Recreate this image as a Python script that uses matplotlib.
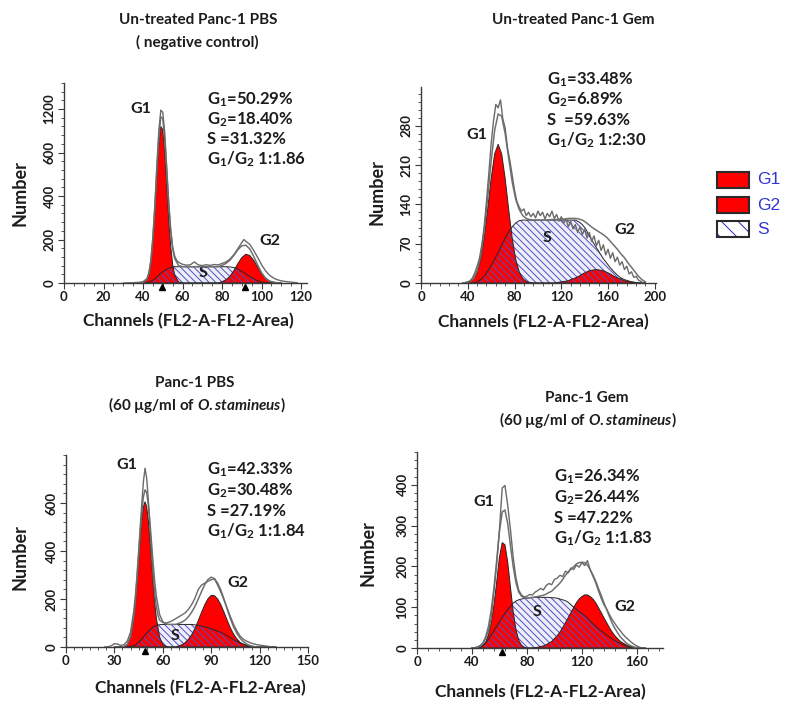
import numpy as np
import matplotlib
matplotlib.use("Agg")
import matplotlib.pyplot as plt
from matplotlib.ticker import AutoMinorLocator
from matplotlib.patches import Rectangle
import matplotlib.transforms as mtrans

# ---------------- data: Panel 1 (Un-treated Panc-1 PBS) ----------------
p1_ch = [36, 38, 40, 42, 43, 44, 45, 46, 47, 48, 49, 50, 51, 52, 53, 54, 55, 56,
         58, 60, 62, 64, 66, 68, 70, 72, 74, 76, 78, 80, 82, 84, 86, 88, 90, 92,
         94, 96, 98, 100, 102, 104, 106, 108, 110]
p1_g1 = [0, 0, 2, 15, 40, 95, 190, 330, 490, 635, 720, 705, 600, 450, 295, 170, 85, 38,
         5, 0] + [0] * 25
p1_s = [0, 0, 0, 2, 4, 8, 13, 20, 28, 36, 44, 52, 58, 64, 68, 72, 74, 75,
        75, 75, 75, 75, 75, 75, 75, 75, 75, 75, 75, 75, 75, 74, 71, 64, 54, 42,
        30, 19, 10, 4, 1, 0, 0, 0, 0]
p1_g2 = [0] * 29 + [6, 15, 31, 57, 89, 117, 132, 127, 104, 73, 43, 22, 9, 4, 1, 0]
p1_raw_ch = [30, 34, 38, 40, 42, 43, 44, 45, 46, 47, 48, 49, 50, 51, 52, 53, 54, 55, 56,
             57, 58, 60, 62, 64, 66, 68, 70, 72, 74, 76, 78, 80, 82, 84, 86, 88, 90, 91,
             92, 94, 96, 98, 100, 102, 104, 106, 108, 110, 112, 114, 116, 118]
p1_raw = [0, 1, 3, 6, 20, 48, 105, 215, 360, 540, 700, 795, 785, 690, 530, 370, 245, 165,
          125, 105, 95, 86, 82, 84, 97, 83, 80, 84, 81, 85, 83, 90, 97, 110, 130, 158, 186,
          200, 192, 178, 150, 118, 84, 56, 36, 23, 15, 10, 7, 5, 3, 1]
p1_marks = [49.5, 91.5]
p1_yticks = [0, 200, 400, 600, 800]
p1_yticklabels = ["0", "200", "400", "600", "1200"]
p1_xticks = [0, 20, 40, 60, 80, 100, 120]
p1_stats = ["G$_1$=50.29%", "G$_2$=18.40%", "S =31.32%", "G$_1$/G$_2$ 1:1.86"]

# ---------------- data: Panel 2 (Un-treated Panc-1 Gem) ----------------
p2_ch = list(range(36, 193, 3))
p2_g1 = [0, 1, 3, 8, 20, 42, 80, 131, 186, 230, 247, 230, 186, 131, 80, 42, 20, 8, 3, 1] + [0] * 33
p2_s = [0, 0, 0, 0, 2, 6, 12, 21, 31, 42, 54, 67, 80, 91, 100, 107, 111] + [112] * 16 + \
       [109, 104, 96, 84, 73, 63, 53, 43, 35, 27, 20, 14, 9, 6, 4, 2, 1, 0, 0, 0]
p2_g2 = [0] * 26 + [0, 1, 2, 3, 4, 7, 9, 12, 16, 19, 22, 23, 24, 23, 22, 19, 16, 12, 9, 7,
                    4, 3, 2, 1, 0, 0, 0]
p2_fit = [0, 1, 3, 8, 22, 48, 92, 152, 217, 272, 301, 297, 266, 222, 180, 149, 131, 120, 115, 113,
          112, 112, 112, 112, 112, 113, 113, 113, 114, 114, 115, 115, 115, 114, 112, 108, 103, 98,
          94, 90, 86, 81, 74, 67, 60, 52, 45, 36, 28, 20, 12, 6, 2]
p2_raw_ch = list(range(36, 191, 2))
p2_raw = [0, 1, 2, 4, 9, 18, 30, 44, 68, 100, 145, 195, 248, 288, 318, 312, 326, 292, 276, 240,
          218, 192, 165, 145, 135, 128, 132, 120, 126, 118, 124, 116, 128, 120, 126, 114, 124, 118,
          128, 115, 122, 110, 118, 106, 114, 100, 110, 96, 104, 90, 100, 86, 96, 80, 90, 74, 84,
          66, 76, 58, 68, 50, 60, 44, 54, 38, 46, 32, 38, 24, 30, 16, 20, 10, 12, 5, 3, 0]
p2_marks = []
p2_yticks = [0, 70, 140, 210, 280]
p2_yticklabels = ["0", "70", "140", "210", "280"]
p2_xticks = [0, 40, 80, 120, 160, 200]
p2_stats = ["G$_1$=33.48%", "G$_2$=6.89%", "S  =59.63%", "G$_1$/G$_2$ 1:2:30"]

# ---------------- data: Panel 3 (Panc-1 PBS, 60 ug/ml) ----------------
p3_ch = [30, 32, 34, 36, 38, 40, 42, 43, 44, 45, 46, 47, 48, 49, 50, 51, 52, 53, 54, 55, 56] + \
        list(range(58, 131, 2))
p3_g1 = [0, 0, 0, 2, 11, 42, 121, 185, 266, 357, 450, 530, 585, 605, 585, 530, 450, 357, 266,
         185, 121, 42, 11, 2, 0] + [0] * 33
p3_s = [0, 0, 0, 0, 0, 2, 6, 9, 14, 19, 26, 34, 42, 50, 58, 65, 72, 78, 83, 87, 90,
        93] + [94] * 10 + [92, 90, 87, 84, 80, 76, 71, 66, 61, 54, 46, 38, 30, 23, 17, 12, 7, 4, 2] + [0] * 7
p3_g2 = [0] * 27 + [5, 10, 19, 33, 52, 78, 110, 144, 176, 201, 215, 214, 200, 176, 144, 110, 78,
                    52, 33, 19, 10, 5, 2, 1, 0, 0, 0, 0, 0, 0, 0]
p3_raw_ch = [24, 26, 28, 30, 32, 34, 36, 38, 40, 42] + list(range(43, 58)) + list(range(58, 129, 2))
p3_raw = [0, 1, 5, 14, 12, 6, 10, 25, 62, 150,
          215, 300, 400, 500, 600, 690, 745, 705, 615, 505, 395, 300, 222, 168, 132,
          112, 102, 100, 104, 110, 118, 126, 134, 143, 158, 178, 205, 240, 258, 266, 274, 280,
          284, 258, 228, 195, 160, 125, 92, 66, 45, 32, 24, 18, 14, 10, 8, 6, 4, 2, 0]
p3_marks = [49]
p3_yticks = [0, 200, 400, 600]
p3_yticklabels = ["0", "200", "400", "600"]
p3_xticks = [0, 30, 60, 90, 120, 150]
p3_stats = ["G$_1$=42.33%", "G$_2$=30.48%", "S =27.19%", "G$_1$/G$_2$ 1:1.84"]

# ---------------- data: Panel 4 (Panc-1 Gem, 60 ug/ml) ----------------
p4_ch = list(range(40, 167, 2))
p4_g1 = [0, 0, 1, 3, 6, 15, 32, 62, 105, 162, 222, 258, 253, 211, 149, 89, 45, 19, 7, 2, 0] + [0] * 43
p4_s = [0, 0, 0, 2, 6, 13, 21, 31, 42, 53,
        64, 75, 85, 94, 102, 110, 115, 118, 120, 121,
        122, 123, 124, 124, 124, 124, 124, 124, 124, 123,
        123, 122, 120, 118, 116, 112, 106, 100, 95, 89,
        84, 79, 73, 66, 59, 53, 47, 42, 37, 32,
        27, 22, 18, 14, 11, 8, 5, 3, 1, 0,
        0, 0, 0, 0]
p4_g2 = [0] * 23 + [1, 2, 4, 5, 8, 12, 16, 23, 30, 39, 50, 62, 74, 87, 99, 111, 120, 126, 130, 130,
                    126, 120, 111, 99, 87, 74, 62, 50, 39, 30, 23, 16, 12, 8, 5, 4, 2, 1, 0, 0, 0]
p4_raw_ch = list(range(40, 165, 2))
p4_raw = [0, 1, 3, 6, 12, 24, 42, 72, 140, 205,
          290, 392, 398, 350, 290, 222, 172, 142, 130, 125,
          127, 131, 130, 137, 141, 146, 142, 153, 158, 155,
          168, 171, 178, 175, 188, 184, 196, 192, 203, 198,
          209, 202, 214, 192, 176, 160, 140, 122, 106, 96,
          82, 70, 60, 50, 42, 33, 26, 20, 14, 9,
          5, 2, 0]
p4_marks = [62]
p4_yticks = [0, 100, 200, 300, 400]
p4_yticklabels = ["0", "100", "200", "300", "400"]
p4_xticks = [0, 40, 80, 120, 160]
p4_stats = ["G$_1$=26.34%", "G$_2$=26.44%", "S =47.22%", "G$_1$/G$_2$ 1:1.83"]

legend_labels = ["G1", "G2", "S"]
xlabel_text = "Channels (FL2-A-FL2-Area)"
ylabel_text = "Number"

# ---------------- styling ----------------
W, H = 791, 717
plt.rcParams["font.family"] = ["Lato", "DejaVu Sans"]
plt.rcParams["font.weight"] = "bold"
plt.rcParams["mathtext.fontset"] = "custom"
plt.rcParams["mathtext.it"] = "Lato:italic:bold"
plt.rcParams["mathtext.rm"] = "Lato:bold"
plt.rcParams["mathtext.bf"] = "Lato:bold"
plt.rcParams["mathtext.default"] = "rm"
HATCH_C = "#5050c4"
plt.rcParams["hatch.color"] = HATCH_C
plt.rcParams["hatch.linewidth"] = 0.7

fig = plt.figure(figsize=(W / 100, H / 100), dpi=100)

TXT = "#1c1c1c"
FS_TITLE = 11
FS_STATS = 12
FS_LABEL = 12.5
FS_PEAK = 11.5


def add_axes_px(left, bottom, right, top):
    return fig.add_axes([left / W, 1 - bottom / H, (right - left) / W, (bottom - top) / H])


def ftext(px, py, s, **kw):
    kw.setdefault("color", TXT)
    return fig.text(px / W, 1 - py / H, s, **kw)


def draw_panel(ax, ch, g1, s, g2, raw_ch, raw, fit, xlim, ylim, xticks, yticks, ytl, xminor, marks):
    ch = np.asarray(ch, float)
    g1 = np.asarray(g1, float)
    s = np.asarray(s, float)
    g2 = np.asarray(g2, float)
    if fit is None:
        fit = g1 + s + g2
    ax.fill_between(ch, 0, s, facecolor="#eeeef9", edgecolor="none", linewidth=0, zorder=1)
    ax.fill_between(ch, 0, g1, facecolor="#ff0000", edgecolor="none", linewidth=0, zorder=2)
    ax.fill_between(ch, 0, g2, facecolor="#ff0000", edgecolor="none", linewidth=0, zorder=2)
    ax.fill_between(ch, 0, s, facecolor="none", edgecolor=HATCH_C, hatch="\\\\\\\\\\",
                    linewidth=0, zorder=3)
    for comp in (s, g1, g2):
        ax.plot(ch, comp, color="#262626", lw=0.7, zorder=4)
    ax.plot(ch, fit, color="#707070", lw=1.1, zorder=5)
    ax.plot(raw_ch, raw, color="#6a6a6a", lw=1.0, zorder=5)

    ax.set_xlim(*xlim)
    ax.set_ylim(*ylim)
    ax.set_xticks(xticks)
    ax.set_yticks(yticks)
    ax.set_yticklabels(ytl)
    ax.xaxis.set_minor_locator(AutoMinorLocator(xminor))
    ax.yaxis.set_minor_locator(AutoMinorLocator(5))
    for sp in ("top", "right"):
        ax.spines[sp].set_visible(False)
    for sp in ("left", "bottom"):
        ax.spines[sp].set_color("#3a3a3a")
        ax.spines[sp].set_linewidth(1.0)
        ax.spines[sp].set_zorder(6)
    ax.tick_params(which="major", length=4, width=0.8, color="#3a3a3a", labelsize=9.5, pad=2,
                   labelcolor=TXT)
    ax.tick_params(which="minor", length=2.5, width=0.6, color="#3a3a3a")
    ax.tick_params(axis="y", labelrotation=90)
    for lab in ax.get_yticklabels():
        lab.set_va("center")
    ax.patch.set_alpha(0)
    if marks:
        trans = mtrans.offset_copy(ax.get_xaxis_transform(), fig=fig, x=0, y=-4, units="dots")
        ax.plot(marks, [0] * len(marks), transform=trans, ls="none", marker="^", ms=5,
                color="black", clip_on=False, zorder=7)


def stats_block(px, py, lines, step=20):
    for i, t in enumerate(lines):
        ftext(px, py + i * step, t, ha="left", va="center", fontsize=FS_STATS)


def peak_label(ax, x, y, s):
    ax.text(x, y, s, ha="center", va="center", fontsize=FS_PEAK, color=TXT)


# Panel 1
ax1 = add_axes_px(64, 283, 307, 83)
draw_panel(ax1, p1_ch, p1_g1, p1_s, p1_g2, p1_raw_ch, p1_raw, None, (0, 123), (0, 920),
           p1_xticks, p1_yticks, p1_yticklabels, 4, p1_marks)
peak_label(ax1, 39, 800, "G1")
peak_label(ax1, 104, 194, "G2")
peak_label(ax1, 70.5, 45, "S")
stats_block(207, 100, p1_stats, 19.7)
ftext(198, 20, "Un-treated Panc-1 PBS", ha="center", va="center", fontsize=FS_TITLE)
ftext(197, 42, "( negative control)", ha="center", va="center", fontsize=FS_TITLE)

# Panel 2
ax2 = add_axes_px(421, 283, 656, 87)
draw_panel(ax2, p2_ch, p2_g1, p2_s, p2_g2, p2_raw_ch, p2_raw, p2_fit, (0, 201), (0, 349),
           p2_xticks, p2_yticks, p2_yticklabels, 5, p2_marks)
peak_label(ax2, 47.6, 264, "G1")
peak_label(ax2, 108, 80, "S")
peak_label(ax2, 174, 94, "G2")
stats_block(547, 80, p2_stats, 20)
ftext(573, 20, "Un-treated Panc-1 Gem", ha="center", va="center", fontsize=FS_TITLE)

# Panel 3
ax3 = add_axes_px(66, 647, 308, 455)
draw_panel(ax3, p3_ch, p3_g1, p3_s, p3_g2, p3_raw_ch, p3_raw, None, (0, 150), (0, 800),
           p3_xticks, p3_yticks, p3_yticklabels, 6, p3_marks)
peak_label(ax3, 37.6, 758, "G1")
peak_label(ax3, 106.8, 265, "G2")
peak_label(ax3, 67.6, 46, "S")
stats_block(207, 470, p3_stats, 20.3)
ftext(195, 383, "Panc-1 PBS", ha="center", va="center", fontsize=FS_TITLE)
ftext(197, 405, "(60 \u00b5g/ml of $\\mathit{O.stamineus}$)", ha="center", va="center", fontsize=FS_TITLE)

# Panel 4
ax4 = add_axes_px(417, 648, 663, 452)
draw_panel(ax4, p4_ch, p4_g1, p4_s, p4_g2, p4_raw_ch, p4_raw, None, (0, 179), (0, 480),
           p4_xticks, p4_yticks, p4_yticklabels, 5, p4_marks)
peak_label(ax4, 48.7, 358, "G1")
peak_label(ax4, 87.5, 87, "S")
peak_label(ax4, 151, 101, "G2")
stats_block(554, 477, p4_stats, 20.5)
ftext(587, 398, "Panc-1 Gem", ha="center", va="center", fontsize=FS_TITLE)
ftext(588, 420, "(60 \u00b5g/ml of $\\mathit{O.stamineus}$)", ha="center", va="center", fontsize=FS_TITLE)

# axis labels
for (xx, xy), (yx, yy) in [((188, 321), (20, 193)), ((543, 322), (377, 192)),
                           ((200, 688), (20, 557)), ((540, 692), (368, 553))]:
    ftext(xx, xy, xlabel_text, ha="center", va="center", fontsize=FS_LABEL)
    ftext(yx, yy, ylabel_text, ha="center", va="center", rotation=90, fontsize=FS_LABEL + 0.5)

# legend
boxes = [(172, 188), (197, 213), (221, 237)]
for i, (lab, (t, b)) in enumerate(zip(legend_labels, boxes)):
    x0, y0, w, h = 717 / W, 1 - b / H, 32 / W, (b - t) / H
    if i < 2:
        fig.add_artist(Rectangle((x0, y0), w, h, transform=fig.transFigure,
                                 facecolor="#ff0000", edgecolor="#2a2a2a", lw=1.5))
    else:
        fig.add_artist(Rectangle((x0, y0), w, h, transform=fig.transFigure,
                                 facecolor="white", edgecolor="#2a2ab8", hatch="\\\\", lw=0))
        fig.add_artist(Rectangle((x0, y0), w, h, transform=fig.transFigure,
                                 facecolor="none", edgecolor="#2a2a2a", lw=1.5))
    ftext(757, (t + b) / 2, lab, ha="left", va="center", fontsize=12.5, color="#3434d0",
          family=["Liberation Sans", "DejaVu Sans"], fontweight="normal")

fig.savefig("out.png", dpi=100)
